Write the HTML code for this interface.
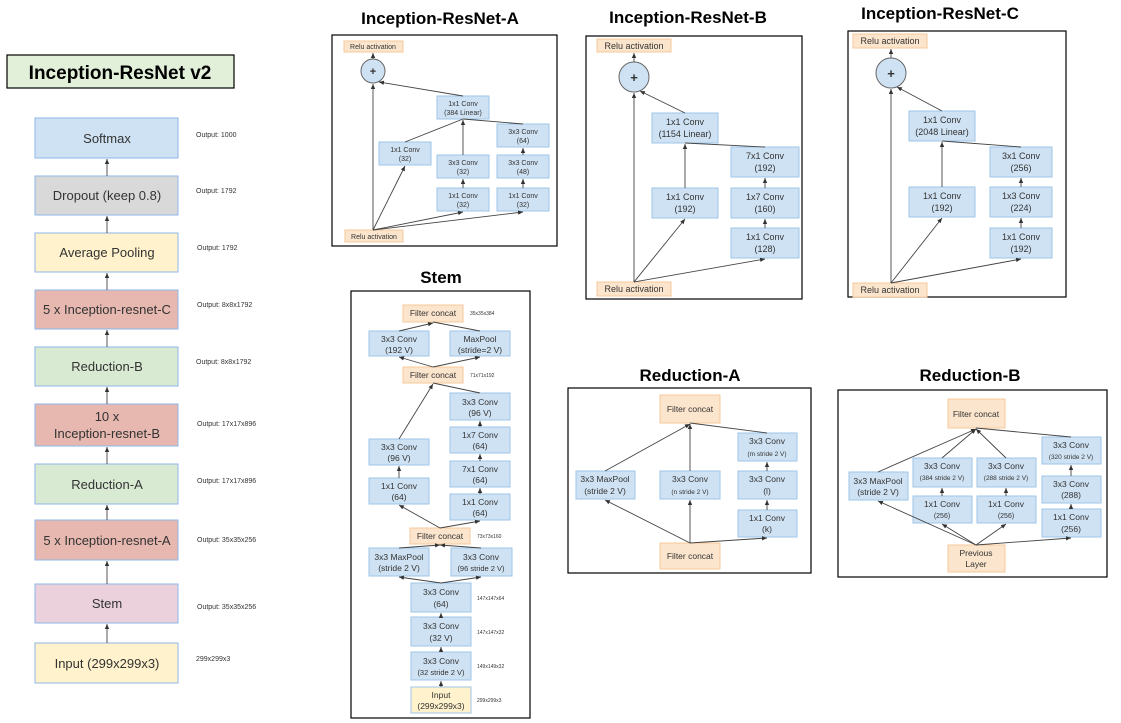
<!DOCTYPE html>
<html><head><meta charset="utf-8"><style>
html,body{margin:0;padding:0;background:#fff;}
svg{display:block;font-family:"Liberation Sans",Arial,sans-serif;}
.b{fill:#cfe2f3;stroke:#9fc5e8;stroke-width:1}
.o{fill:#fce5cd;stroke:#f6c89a;stroke-width:1}
.y{fill:#fff2cc;stroke:#9fc5e8;stroke-width:1}
.t{fill:#333;text-anchor:middle}
.l{stroke:#444;stroke-width:0.9;fill:none}
.a{stroke:#444;stroke-width:0.9;fill:none;marker-end:url(#m)}
.h{font-weight:bold;font-size:17px;text-anchor:middle;fill:#000}
.fr{fill:#fff;stroke:#000;stroke-width:1.2}
.s{font-size:5px;fill:#333}
.op{font-size:7px;fill:#333}
</style></head><body>
<svg width="1121" height="723" viewBox="0 0 1121 723" xmlns="http://www.w3.org/2000/svg">
<defs><marker id="m" markerWidth="6" markerHeight="6" refX="5" refY="3" orient="auto" markerUnits="userSpaceOnUse"><path d="M0,0.8 L5,3 L0,5.2z" fill="#333"/></marker></defs>

<!-- Left column -->
<rect x="7" y="55" width="227" height="33" fill="#e2efd9" stroke="#000" stroke-width="1.2"/>
<text x="120" y="79" class="h" style="font-size:19px">Inception-ResNet v2</text>
<g style="font-size:13px">
<rect x="35" y="118" width="143" height="40" fill="#cfe2f3" stroke="#8fb6ea"/><text x="107" y="143" class="t">Softmax</text>
<rect x="35" y="176" width="143" height="39" fill="#d9d9d9" stroke="#8fb6ea"/><text x="107" y="200" class="t">Dropout (keep 0.8)</text>
<rect x="35" y="233" width="143" height="39" fill="#fff2cc" stroke="#8fb6ea"/><text x="107" y="257" class="t">Average Pooling</text>
<rect x="35" y="290" width="143" height="39" fill="#e6b8af" stroke="#8fb6ea"/><text x="107" y="314" class="t">5 x Inception-resnet-C</text>
<rect x="35" y="347" width="143" height="39" fill="#d9ead3" stroke="#8fb6ea"/><text x="107" y="371" class="t">Reduction-B</text>
<rect x="35" y="404" width="143" height="42" fill="#e6b8af" stroke="#8fb6ea"/><text x="107" y="421" class="t">10 x</text><text x="107" y="438" class="t">Inception-resnet-B</text>
<rect x="35" y="464" width="143" height="40" fill="#d9ead3" stroke="#8fb6ea"/><text x="107" y="489" class="t">Reduction-A</text>
<rect x="35" y="520" width="143" height="40" fill="#e6b8af" stroke="#8fb6ea"/><text x="107" y="545" class="t">5 x Inception-resnet-A</text>
<rect x="35" y="584" width="143" height="39" fill="#ead1dc" stroke="#8fb6ea"/><text x="107" y="608" class="t">Stem</text>
<rect x="35" y="643" width="143" height="40" fill="#fff2cc" stroke="#8fb6ea"/><text x="107" y="668" class="t">Input (299x299x3)</text>
</g>
<g class="a">
<line x1="107" y1="176" x2="107" y2="159"/><line x1="107" y1="233" x2="107" y2="216"/><line x1="107" y1="290" x2="107" y2="273"/>
<line x1="107" y1="347" x2="107" y2="330"/><line x1="107" y1="404" x2="107" y2="387"/><line x1="107" y1="464" x2="107" y2="447"/>
<line x1="107" y1="520" x2="107" y2="505"/><line x1="107" y1="584" x2="107" y2="561"/><line x1="107" y1="643" x2="107" y2="624"/>
</g>
<g class="op">
<text x="196" y="137">Output: 1000</text><text x="196" y="193">Output: 1792</text><text x="197" y="250">Output: 1792</text>
<text x="197" y="307">Output: 8x8x1792</text><text x="196" y="364">Output: 8x8x1792</text><text x="197" y="426">Output: 17x17x896</text>
<text x="197" y="483">Output: 17x17x896</text><text x="197" y="542">Output: 35x35x256</text><text x="197" y="609">Output: 35x35x256</text>
<text x="196" y="661">299x299x3</text>
</g>

<!-- Inception-ResNet-A -->
<text x="440" y="24" class="h">Inception-ResNet-A</text>
<rect x="332" y="35" width="225" height="211" class="fr"/>
<g style="font-size:7px">
<rect x="344" y="41" width="59" height="11" class="o"/><text x="373" y="49" class="t">Relu activation</text>
<circle cx="373" cy="71" r="12" fill="#cfe2f3" stroke="#666"/><text x="373" y="75" class="t" style="font-size:11px;font-weight:bold">+</text>
<rect x="437" y="96" width="52" height="23" class="b"/><text x="463" y="106" class="t">1x1 Conv</text><text x="463" y="115" class="t">(384 Linear)</text>
<rect x="379" y="142" width="52" height="23" class="b"/><text x="405" y="152" class="t">1x1 Conv</text><text x="405" y="161" class="t">(32)</text>
<rect x="437" y="155" width="52" height="23" class="b"/><text x="463" y="165" class="t">3x3 Conv</text><text x="463" y="174" class="t">(32)</text>
<rect x="437" y="188" width="52" height="23" class="b"/><text x="463" y="198" class="t">1x1 Conv</text><text x="463" y="207" class="t">(32)</text>
<rect x="497" y="124" width="52" height="23" class="b"/><text x="523" y="134" class="t">3x3 Conv</text><text x="523" y="143" class="t">(64)</text>
<rect x="497" y="155" width="52" height="23" class="b"/><text x="523" y="165" class="t">3x3 Conv</text><text x="523" y="174" class="t">(48)</text>
<rect x="497" y="188" width="52" height="23" class="b"/><text x="523" y="198" class="t">1x1 Conv</text><text x="523" y="207" class="t">(32)</text>
<rect x="345" y="230" width="58" height="12" class="o"/><text x="374" y="239" class="t">Relu activation</text>
</g>
<line class="a" x1="373" y1="230" x2="373" y2="84"/><line class="a" x1="373" y1="59" x2="373" y2="53"/>
<line class="a" x1="463" y1="96" x2="379" y2="82"/>
<line class="a" x1="373" y1="230" x2="405" y2="166"/><line class="a" x1="373" y1="230" x2="463" y2="212"/><line class="a" x1="373" y1="230" x2="523" y2="212"/>
<line class="l" x1="405" y1="142" x2="463" y2="119"/><line class="a" x1="463" y1="155" x2="463" y2="120"/><line class="l" x1="523" y1="124" x2="463" y2="119"/>
<line class="a" x1="463" y1="188" x2="463" y2="179"/><line class="a" x1="523" y1="188" x2="523" y2="179"/><line class="a" x1="523" y1="155" x2="523" y2="148"/>

<!-- Inception-ResNet-B -->
<text x="688" y="23" class="h">Inception-ResNet-B</text>
<rect x="586" y="36" width="216" height="263" class="fr"/>
<g style="font-size:9px">
<rect x="597" y="39" width="74" height="13" class="o"/><text x="634" y="49" class="t">Relu activation</text>
<circle cx="634" cy="77" r="15" fill="#cfe2f3" stroke="#666"/><text x="634" y="82" class="t" style="font-size:13px;font-weight:bold">+</text>
<rect x="652" y="113" width="66" height="30" class="b"/><text x="685" y="125" class="t">1x1 Conv</text><text x="685" y="137" class="t">(1154 Linear)</text>
<rect x="731" y="147" width="68" height="30" class="b"/><text x="765" y="159" class="t">7x1 Conv</text><text x="765" y="171" class="t">(192)</text>
<rect x="652" y="188" width="66" height="30" class="b"/><text x="685" y="200" class="t">1x1 Conv</text><text x="685" y="212" class="t">(192)</text>
<rect x="731" y="188" width="68" height="30" class="b"/><text x="765" y="200" class="t">1x7 Conv</text><text x="765" y="212" class="t">(160)</text>
<rect x="731" y="228" width="68" height="30" class="b"/><text x="765" y="240" class="t">1x1 Conv</text><text x="765" y="252" class="t">(128)</text>
<rect x="597" y="282" width="74" height="14" class="o"/><text x="634" y="292" class="t">Relu activation</text>
</g>
<line class="a" x1="634" y1="282" x2="634" y2="93"/><line class="a" x1="634" y1="62" x2="634" y2="53"/>
<line class="a" x1="685" y1="113" x2="640" y2="91"/>
<line class="a" x1="634" y1="282" x2="685" y2="219"/><line class="a" x1="634" y1="282" x2="765" y2="259"/>
<line class="a" x1="685" y1="188" x2="685" y2="144"/><line class="l" x1="765" y1="147" x2="685" y2="143"/>
<line class="a" x1="765" y1="228" x2="765" y2="219"/><line class="a" x1="765" y1="188" x2="765" y2="178"/>

<!-- Inception-ResNet-C -->
<text x="940" y="19" class="h">Inception-ResNet-C</text>
<rect x="848" y="31" width="218" height="266" class="fr"/>
<g style="font-size:9px">
<rect x="853" y="34" width="74" height="14" class="o"/><text x="890" y="44" class="t">Relu activation</text>
<circle cx="891" cy="73" r="15" fill="#cfe2f3" stroke="#666"/><text x="891" y="78" class="t" style="font-size:13px;font-weight:bold">+</text>
<rect x="909" y="111" width="66" height="30" class="b"/><text x="942" y="123" class="t">1x1 Conv</text><text x="942" y="135" class="t">(2048 Linear)</text>
<rect x="990" y="147" width="62" height="30" class="b"/><text x="1021" y="159" class="t">3x1 Conv</text><text x="1021" y="171" class="t">(256)</text>
<rect x="909" y="187" width="66" height="30" class="b"/><text x="942" y="199" class="t">1x1 Conv</text><text x="942" y="211" class="t">(192)</text>
<rect x="990" y="187" width="62" height="30" class="b"/><text x="1021" y="199" class="t">1x3 Conv</text><text x="1021" y="211" class="t">(224)</text>
<rect x="990" y="228" width="62" height="30" class="b"/><text x="1021" y="240" class="t">1x1 Conv</text><text x="1021" y="252" class="t">(192)</text>
<rect x="853" y="283" width="74" height="14" class="o"/><text x="890" y="293" class="t">Relu activation</text>
</g>
<line class="a" x1="891" y1="283" x2="891" y2="89"/><line class="a" x1="891" y1="58" x2="891" y2="49"/>
<line class="a" x1="942" y1="111" x2="897" y2="87"/>
<line class="a" x1="891" y1="283" x2="942" y2="218"/><line class="a" x1="891" y1="283" x2="1021" y2="259"/>
<line class="a" x1="942" y1="187" x2="942" y2="142"/><line class="l" x1="1021" y1="147" x2="942" y2="141"/>
<line class="a" x1="1021" y1="228" x2="1021" y2="218"/><line class="a" x1="1021" y1="187" x2="1021" y2="178"/>

<!-- Stem -->
<text x="441" y="283" class="h">Stem</text>
<rect x="351" y="291" width="179" height="427" class="fr"/>
<g style="font-size:8.5px">
<rect x="403" y="305" width="60" height="17" class="o"/><text x="433" y="316" class="t">Filter concat</text>
<rect x="369" y="331" width="60" height="25" class="b"/><text x="399" y="342" class="t">3x3 Conv</text><text x="399" y="353" class="t">(192 V)</text>
<rect x="450" y="331" width="60" height="25" class="b"/><text x="480" y="342" class="t">MaxPool</text><text x="480" y="353" class="t">(stride=2 V)</text>
<rect x="403" y="367" width="60" height="16" class="o"/><text x="433" y="378" class="t">Filter concat</text>
<rect x="450" y="393" width="60" height="27" class="b"/><text x="480" y="405" class="t">3x3 Conv</text><text x="480" y="416" class="t">(96 V)</text>
<rect x="450" y="427" width="60" height="26" class="b"/><text x="480" y="438" class="t">1x7 Conv</text><text x="480" y="449" class="t">(64)</text>
<rect x="450" y="461" width="60" height="26" class="b"/><text x="480" y="472" class="t">7x1 Conv</text><text x="480" y="483" class="t">(64)</text>
<rect x="450" y="494" width="60" height="26" class="b"/><text x="480" y="505" class="t">1x1 Conv</text><text x="480" y="516" class="t">(64)</text>
<rect x="369" y="439" width="60" height="26" class="b"/><text x="399" y="450" class="t">3x3 Conv</text><text x="399" y="461" class="t">(96 V)</text>
<rect x="369" y="478" width="60" height="26" class="b"/><text x="399" y="489" class="t">1x1 Conv</text><text x="399" y="500" class="t">(64)</text>
<rect x="410" y="528" width="60" height="16" class="o"/><text x="440" y="539" class="t">Filter concat</text>
<rect x="369" y="548" width="60" height="28" class="b"/><text x="399" y="560" class="t">3x3 MaxPool</text><text x="399" y="571" class="t">(stride 2 V)</text>
<rect x="451" y="548" width="61" height="28" class="b"/><text x="481" y="560" class="t">3x3 Conv</text><text x="481" y="571" class="t" style="font-size:7.5px">(96 stride 2 V)</text>
<rect x="411" y="583" width="60" height="29" class="b"/><text x="441" y="595" class="t">3x3 Conv</text><text x="441" y="607" class="t">(64)</text>
<rect x="411" y="617" width="60" height="29" class="b"/><text x="441" y="629" class="t">3x3 Conv</text><text x="441" y="641" class="t">(32 V)</text>
<rect x="411" y="652" width="60" height="28" class="b"/><text x="441" y="664" class="t">3x3 Conv</text><text x="441" y="675" class="t" style="font-size:7.5px">(32 stride 2 V)</text>
<rect x="411" y="687" width="60" height="26" class="y"/><text x="441" y="698" class="t">Input</text><text x="441" y="709" class="t">(299x299x3)</text>
</g>
<g class="s">
<text x="470" y="315">35x35x384</text><text x="470" y="377">71x71x192</text><text x="477" y="538">73x73x160</text>
<text x="477" y="600">147x147x64</text><text x="477" y="634">147x147x32</text><text x="477" y="668">149x149x32</text><text x="477" y="702">299x299x3</text>
</g>
<line class="a" x1="441" y1="687" x2="441" y2="681"/><line class="a" x1="441" y1="652" x2="441" y2="647"/><line class="a" x1="441" y1="617" x2="441" y2="613"/>
<line class="a" x1="441" y1="583" x2="399" y2="577"/><line class="a" x1="441" y1="583" x2="481" y2="577"/>
<line class="a" x1="399" y1="548" x2="440" y2="545"/><line class="a" x1="481" y1="548" x2="440" y2="545"/>
<line class="a" x1="440" y1="528" x2="399" y2="505"/><line class="a" x1="440" y1="528" x2="480" y2="521"/>
<line class="a" x1="399" y1="478" x2="399" y2="466"/><line class="a" x1="399" y1="439" x2="433" y2="384"/>
<line class="a" x1="480" y1="494" x2="480" y2="488"/><line class="a" x1="480" y1="461" x2="480" y2="454"/><line class="a" x1="480" y1="427" x2="480" y2="421"/>
<line class="l" x1="480" y1="393" x2="433" y2="383"/>
<line class="a" x1="433" y1="367" x2="399" y2="357"/><line class="a" x1="433" y1="367" x2="480" y2="357"/>
<line class="a" x1="399" y1="331" x2="433" y2="323"/><line class="l" x1="480" y1="331" x2="433" y2="322"/>

<!-- Reduction-A -->
<text x="690" y="381" class="h">Reduction-A</text>
<rect x="568" y="388" width="243" height="185" class="fr"/>
<g style="font-size:8.5px">
<rect x="660" y="395" width="60" height="28" class="o"/><text x="690" y="412" class="t">Filter concat</text>
<rect x="576" y="471" width="59" height="28" class="b"/><text x="605" y="482" class="t">3x3 MaxPool</text><text x="605" y="494" class="t">(stride 2 V)</text>
<rect x="660" y="471" width="60" height="28" class="b"/><text x="690" y="482" class="t">3x3 Conv</text><text x="690" y="494" class="t" style="font-size:6.5px">(n stride 2 V)</text>
<rect x="738" y="433" width="59" height="28" class="b"/><text x="767" y="444" class="t">3x3 Conv</text><text x="767" y="456" class="t" style="font-size:6.5px">(m stride 2 V)</text>
<rect x="738" y="471" width="59" height="28" class="b"/><text x="767" y="482" class="t">3x3 Conv</text><text x="767" y="494" class="t">(l)</text>
<rect x="738" y="510" width="59" height="27" class="b"/><text x="767" y="521" class="t">1x1 Conv</text><text x="767" y="532" class="t">(k)</text>
<rect x="660" y="543" width="60" height="26" class="o"/><text x="690" y="559" class="t">Filter concat</text>
</g>
<line class="a" x1="605" y1="471" x2="690" y2="424"/><line class="a" x1="690" y1="471" x2="690" y2="424"/><line class="l" x1="767" y1="433" x2="690" y2="423"/>
<line class="a" x1="690" y1="543" x2="605" y2="500"/><line class="a" x1="690" y1="543" x2="690" y2="500"/><line class="a" x1="690" y1="543" x2="767" y2="538"/>
<line class="a" x1="767" y1="510" x2="767" y2="500"/><line class="a" x1="767" y1="471" x2="767" y2="462"/>

<!-- Reduction-B -->
<text x="970" y="381" class="h">Reduction-B</text>
<rect x="838" y="390" width="269" height="187" class="fr"/>
<g style="font-size:8.5px">
<rect x="948" y="399" width="57" height="29" class="o"/><text x="976" y="417" class="t">Filter concat</text>
<rect x="849" y="472" width="59" height="28" class="b"/><text x="878" y="484" class="t">3x3 MaxPool</text><text x="878" y="495" class="t">(stride 2 V)</text>
<rect x="913" y="458" width="59" height="29" class="b"/><text x="942" y="469" class="t">3x3 Conv</text><text x="942" y="480" class="t" style="font-size:6.5px">(384 stride 2 V)</text>
<rect x="977" y="458" width="59" height="29" class="b"/><text x="1006" y="469" class="t">3x3 Conv</text><text x="1006" y="480" class="t" style="font-size:6.5px">(288 stride 2 V)</text>
<rect x="913" y="496" width="59" height="27" class="b"/><text x="942" y="507" class="t">1x1 Conv</text><text x="942" y="518" class="t" style="font-size:7px">(256)</text>
<rect x="977" y="496" width="59" height="27" class="b"/><text x="1006" y="507" class="t">1x1 Conv</text><text x="1006" y="518" class="t" style="font-size:7px">(256)</text>
<rect x="1042" y="437" width="59" height="27" class="b"/><text x="1071" y="448" class="t">3x3 Conv</text><text x="1071" y="459" class="t" style="font-size:6.5px">(320 stride 2 V)</text>
<rect x="1042" y="476" width="59" height="27" class="b"/><text x="1071" y="487" class="t">3x3 Conv</text><text x="1071" y="498" class="t">(288)</text>
<rect x="1042" y="509" width="59" height="28" class="b"/><text x="1071" y="520" class="t">1x1 Conv</text><text x="1071" y="532" class="t">(256)</text>
<rect x="948" y="545" width="57" height="27" class="o"/><text x="976" y="556" class="t">Previous</text><text x="976" y="567" class="t">Layer</text>
</g>
<line class="a" x1="878" y1="472" x2="976" y2="429"/><line class="a" x1="942" y1="458" x2="976" y2="429"/><line class="a" x1="1006" y1="458" x2="976" y2="429"/><line class="l" x1="1071" y1="437" x2="976" y2="428"/>
<line class="a" x1="976" y1="545" x2="878" y2="501"/><line class="a" x1="976" y1="545" x2="942" y2="524"/><line class="a" x1="976" y1="545" x2="1006" y2="524"/><line class="a" x1="976" y1="545" x2="1071" y2="538"/>
<line class="a" x1="942" y1="496" x2="942" y2="488"/><line class="a" x1="1006" y1="496" x2="1006" y2="488"/><line class="a" x1="1071" y1="509" x2="1071" y2="504"/><line class="a" x1="1071" y1="476" x2="1071" y2="465"/>
</svg>
</body></html>
